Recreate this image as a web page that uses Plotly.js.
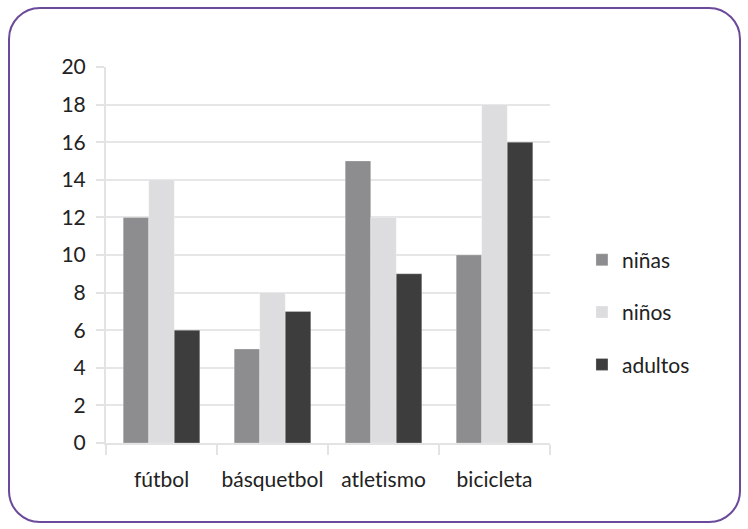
<!DOCTYPE html>
<html><head><meta charset="utf-8">
<script src="https://cdn.plot.ly/plotly-3.0.1.min.js"></script>
<style>
html,body{margin:0;padding:0;background:#fff;}
#wrap{position:relative;width:748px;height:529px;}
#chart{position:absolute;left:0;top:0;width:748px;height:529px;}
#chart text{font-variant-ligatures:none;font-feature-settings:"liga" 0;}
#frame{position:absolute;left:8px;top:7px;width:729px;height:512px;border:2.5px solid #6b4a9b;border-radius:32px;pointer-events:none;}
</style></head>
<body><div id="wrap"><div id="chart"></div><div id="frame"></div></div>
<script>
const categories = ['fútbol','básquetbol','atletismo','bicicleta'];
const ninas   = [12, 5, 15, 10];
const ninos   = [14, 8, 12, 18];
const adultos = [6, 7, 9, 16];
const yTicks  = [0,2,4,6,8,10,12,14,16,18,20];

const FONT = 'Lato, "Open Sans", sans-serif';
const FS = 21;
function tr(name, vals, color, grp){
  return {type:'bar', name:name, x:categories, y:vals, legendgroup:grp,
    marker:{color:color, line:{color:'rgba(255,255,255,0.25)', width:1}}, hoverinfo:'skip'};
}
const data = [
  tr('niñas', ninas, '#8d8d90', 'a'),
  tr('niños', ninos, '#dddddf', 'b'),
  tr('adultos', adultos, '#3d3d3d', 'c')
];
const layout = {
  width:748, height:529,
  margin:{l:106, r:198, t:67, b:86},
  paper_bgcolor:'#fff', plot_bgcolor:'#fff',
  barmode:'group', bargap:0.31, bargroupgap:0,
  font:{family:FONT, size:FS, color:'#222'},
  showlegend:true,
  legend:{x:1.072, y:0.348, yanchor:'middle', xanchor:'left', traceorder:'grouped',
    tracegroupgap:22, font:{family:FONT, size:FS, color:'#222'}, itemwidth:30},
  xaxis:{type:'category', showline:true, linecolor:'#e3e3e3', linewidth:2,
    ticks:'outside', tickson:'boundaries', ticklen:10, tickcolor:'#e3e3e3', tickwidth:2,
    ticklabelstandoff:17, tickangle:0,
    showgrid:false, tickfont:{family:FONT, size:FS, color:'#222'}},
  yaxis:{range:[0,20], tickvals:yTicks, showline:true, linecolor:'#e3e3e3', linewidth:2,
    ticks:'outside', ticklen:8, tickcolor:'#e3e3e3', tickwidth:2,
    ticklabelstandoff:6,
    gridcolor:'#e6e6e6', gridwidth:2, zeroline:false,
    tickfont:{family:FONT, size:FS, color:'#222'}}
};
Plotly.newPlot('chart', data, layout, {displayModeBar:false, staticPlot:true});
</script></body></html>
